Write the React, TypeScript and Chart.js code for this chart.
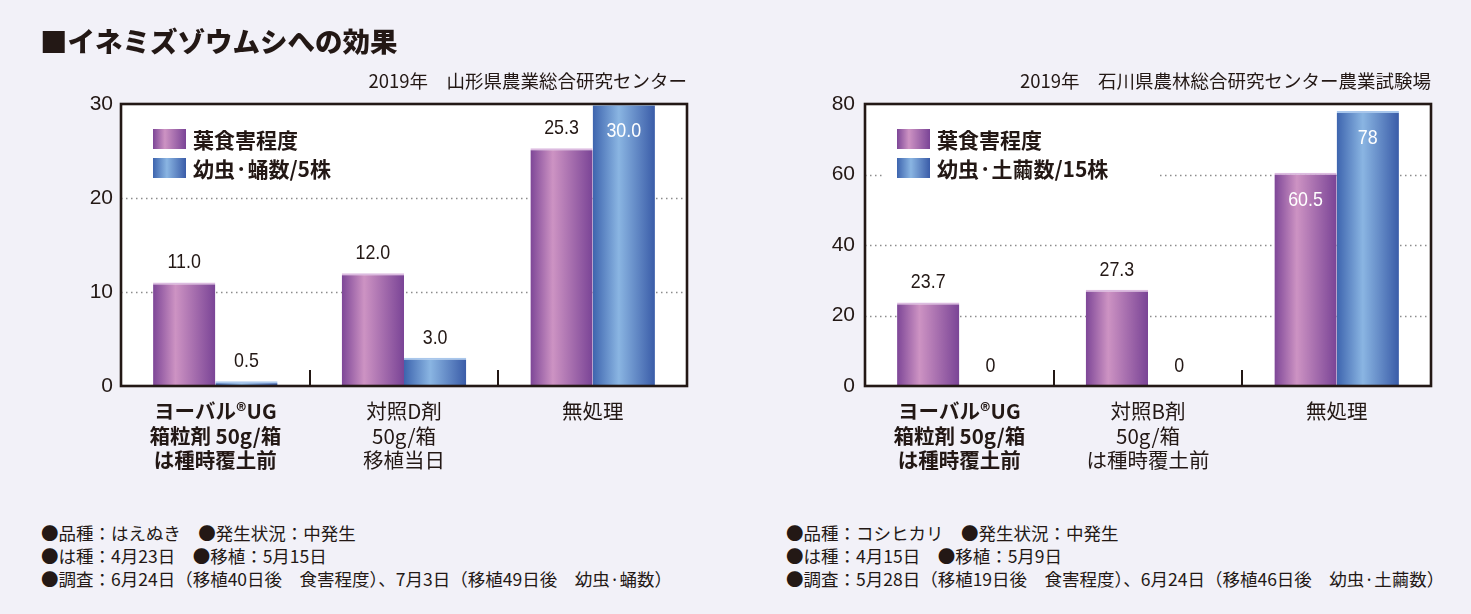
import React, { useEffect, useRef } from "react";
import { Chart, registerables } from "chart.js";

Chart.register(...registerables);

// ---------- data ----------
const titleText = "■イネミズゾウムシへの効果";

const leftSource = "2019年　山形県農業総合研究センター";
const leftCategories = [
  ["ヨーバル®UG", "箱粒剤 50g/箱", "は種時覆土前"],
  ["対照D剤", "50g/箱", "移植当日"],
  ["無処理"],
];
const leftSeriesLabels = ["葉食害程度", "幼虫·蛹数/5株"];
const leftDamage = [11.0, 12.0, 25.3];
const leftLarvae = [0.5, 3.0, 30.0];
const leftYMax = 30;
const leftYStep = 10;
const leftNotes = [
  "●品種：はえぬき　●発生状況：中発生",
  "●は種：4月23日　●移植：5月15日",
  "●調査：6月24日（移植40日後　食害程度）、7月3日（移植49日後　幼虫·蛹数）",
];

const rightSource = "2019年　石川県農林総合研究センター農業試験場";
const rightCategories = [
  ["ヨーバル®UG", "箱粒剤 50g/箱", "は種時覆土前"],
  ["対照B剤", "50g/箱", "は種時覆土前"],
  ["無処理"],
];
const rightSeriesLabels = ["葉食害程度", "幼虫·土繭数/15株"];
const rightDamage = [23.7, 27.3, 60.5];
const rightLarvae = [0, 0, 78];
const rightYMax = 80;
const rightYStep = 20;
const rightNotes = [
  "●品種：コシヒカリ　●発生状況：中発生",
  "●は種：4月15日　●移植：5月9日",
  "●調査：5月28日（移植19日後　食害程度）、6月24日（移植46日後　幼虫·土繭数）",
];

// ---------- style ----------
const TEXT = "#231815";
const BG = "#f2f1f8";
const FONT_JP = "'Noto Sans CJK JP', 'Noto Sans', sans-serif";
const FONT_NUM = "'Liberation Sans', Arial, sans-serif";
const CAT_PCT = 0.66;

const PURPLE_STOPS: [number, string][] = [
  [0, "#7d4697"],
  [0.36, "#cd93c3"],
  [1, "#7a4496"],
];
const BLUE_STOPS: [number, string][] = [
  [0, "#3d64ae"],
  [0.42, "#8ab5e2"],
  [1, "#3a5ca8"],
];

function makeGradient(ctx: CanvasRenderingContext2D, x0: number, w: number, stops: [number, string][]) {
  const g = ctx.createLinearGradient(x0, 0, x0 + w, 0);
  stops.forEach(([o, c]) => g.addColorStop(o, c));
  return g;
}

function barFill(c: any, stops: [number, string][]) {
  const chart = c.chart;
  const xs = chart.scales && chart.scales.x;
  if (!xs || c.type !== "data") return stops[1][1];
  const n = chart.data.labels.length;
  const catW = (xs.right - xs.left) / n;
  const groupW = catW * CAT_PCT;
  const nd = chart.data.datasets.length;
  const barW = groupW / nd;
  const center = xs.getPixelForValue(c.dataIndex);
  const x0 = center - groupW / 2 + c.datasetIndex * barW;
  if (!isFinite(x0) || !isFinite(barW) || barW <= 0) return stops[1][1];
  return makeGradient(chart.ctx, x0, barW, stops);
}

type Spec = {
  categories: string[][];
  seriesLabels: string[];
  damage: number[];
  larvae: number[];
  yMax: number;
  yStep: number;
  decimals: number | null;
  inside: boolean[][];
  width: number;
  height: number;
  area: { left: number; top: number; right: number; bottom: number };
  tickPad: number;
};

function makeDecor(spec: Spec) {
  return {
    id: "decor",
    beforeDraw(chart: any) {
      const { ctx, chartArea: a } = chart;
      ctx.save();
      ctx.fillStyle = "#ffffff";
      ctx.fillRect(a.left, a.top, a.right - a.left, a.bottom - a.top);
      ctx.restore();
    },
    beforeDatasetsDraw(chart: any) {
      const { ctx, chartArea: a } = chart;
      const ys = chart.scales.y;
      // dotted grid lines
      ctx.save();
      ctx.strokeStyle = "#8c8c8c";
      ctx.lineWidth = 1.3;
      ctx.setLineDash([1.5, 3.5]);
      ys.ticks.forEach((t: any) => {
        if (t.value <= ys.min || t.value >= ys.max) return;
        const y = Math.round(ys.getPixelForValue(t.value)) + 0.5;
        ctx.beginPath();
        ctx.moveTo(a.left, y);
        ctx.lineTo(a.right, y);
        ctx.stroke();
      });
      ctx.restore();

      // legend
      const sw = 33, sh = 20, gap = 9;
      const lx = a.left + 32;
      const ly = a.top + 25;
      ctx.save();
      ctx.font = `bold 21px ${FONT_JP}`;
      let maxW = 0;
      chart.data.datasets.forEach((d: any) => {
        maxW = Math.max(maxW, ctx.measureText(d.label).width);
      });
      const nd = chart.data.datasets.length;
      ctx.fillStyle = "#ffffff";
      ctx.fillRect(lx - 13, a.top + 3, sw + 7 + maxW + 62, nd * (sh + gap) + 30);
      chart.data.datasets.forEach((d: any, i: number) => {
        const y = ly + i * (sh + gap);
        ctx.fillStyle = makeGradient(ctx, lx, sw, i === 0 ? PURPLE_STOPS : BLUE_STOPS);
        ctx.fillRect(lx, y, sw, sh);
        ctx.fillStyle = TEXT;
        ctx.textAlign = "left";
        ctx.textBaseline = "middle";
        ctx.fillText(d.label, lx + sw + 7, y + sh / 2 + 1);
      });
      ctx.restore();
    },
    afterDatasetsDraw(chart: any) {
      const { ctx, chartArea: a } = chart;
      const xs = chart.scales.x;
      // value labels (condensed numerals)
      ctx.save();
      ctx.font = `21px ${FONT_NUM}`;
      ctx.textAlign = "center";
      ctx.textBaseline = "middle";
      chart.data.datasets.forEach((d: any, di: number) => {
        const meta = chart.getDatasetMeta(di);
        meta.data.forEach((el: any, i: number) => {
          const v = d.data[i];
          const txt = spec.decimals === null ? String(v) : Number(v).toFixed(spec.decimals);
          const inside = spec.inside[di][i];
          ctx.fillStyle = inside ? "#ffffff" : TEXT;
          ctx.save();
          ctx.translate(el.x, inside ? el.y + 27 : el.y - 20);
          ctx.scale(0.85, 1);
          ctx.fillText(txt, 0, 0);
          ctx.restore();
        });
      });
      ctx.restore();

      // category boundary ticks
      ctx.save();
      ctx.strokeStyle = TEXT;
      ctx.lineWidth = 2;
      const n = chart.data.labels.length;
      for (let i = 0; i < n - 1; i++) {
        const x = Math.round((xs.getPixelForValue(i) + xs.getPixelForValue(i + 1)) / 2);
        ctx.beginPath();
        ctx.moveTo(x, a.bottom);
        ctx.lineTo(x, a.bottom - 16);
        ctx.stroke();
      }
      // frame
      ctx.lineWidth = 2.6;
      ctx.strokeRect(a.left, a.top, a.right - a.left, a.bottom - a.top);
      ctx.restore();
    },
  };
}

function ChartBox({ spec, left }: { spec: Spec; left: number }) {
  const ref = useRef<HTMLCanvasElement | null>(null);
  useEffect(() => {
    const canvas = ref.current;
    if (!canvas) return;
    const chart = new Chart(canvas, {
      type: "bar",
      data: {
        labels: spec.categories as any,
        datasets: [
          {
            label: spec.seriesLabels[0],
            data: spec.damage,
            backgroundColor: (c: any) => barFill(c, PURPLE_STOPS),
            borderColor: "#dcbbe0",
            borderWidth: { top: 2, left: 0, right: 0, bottom: 0 } as any,
          },
          {
            label: spec.seriesLabels[1],
            data: spec.larvae,
            backgroundColor: (c: any) => barFill(c, BLUE_STOPS),
            borderColor: "#a9c7ec",
            borderWidth: { top: 2, left: 0, right: 0, bottom: 0 } as any,
          },
        ],
      },
      options: {
        responsive: false,
        animation: false,
        devicePixelRatio: 1,
        barPercentage: 1,
        categoryPercentage: CAT_PCT,
        layout: {
          padding: {
            left: 0,
            top: spec.area.top,
            right: spec.width - spec.area.right,
            bottom: 0,
          },
        },
        plugins: {
          legend: { display: false },
          tooltip: { enabled: false },
          title: { display: false },
        },
        scales: {
          x: {
            type: "category",
            grid: { display: false, drawTicks: false },
            border: { display: false },
            ticks: {
              color: TEXT,
              padding: 13,
              maxRotation: 0,
              autoSkip: false,
              font: (c: any) => ({
                family: FONT_JP,
                size: 20.5,
                weight: c.index === 0 ? "bold" : "normal",
                lineHeight: 1.2,
              }),
            },
            afterFit: (s: any) => {
              s.height = spec.height - spec.area.bottom;
            },
          },
          y: {
            min: 0,
            max: spec.yMax,
            grid: { display: false, drawTicks: false },
            border: { display: false },
            ticks: {
              stepSize: spec.yStep,
              color: TEXT,
              padding: spec.tickPad,
              font: { family: FONT_NUM, size: 21 },
            },
            afterFit: (s: any) => {
              s.width = spec.area.left;
            },
          },
        },
      },
      plugins: [makeDecor(spec)],
    } as any);
    return () => chart.destroy();
  }, [spec]);
  return (
    <canvas
      ref={ref}
      width={spec.width}
      height={spec.height}
      style={{ position: "absolute", left, top: 0, width: spec.width, height: spec.height }}
    />
  );
}

const leftSpec: Spec = {
  categories: leftCategories,
  seriesLabels: leftSeriesLabels,
  damage: leftDamage,
  larvae: leftLarvae,
  yMax: leftYMax,
  yStep: leftYStep,
  decimals: 1,
  inside: [
    [false, false, false],
    [false, false, true],
  ],
  width: 735,
  height: 490,
  area: { left: 121, top: 104, right: 687, bottom: 386 },
  tickPad: 8,
};

const rightSpec: Spec = {
  categories: rightCategories,
  seriesLabels: rightSeriesLabels,
  damage: rightDamage,
  larvae: rightLarvae,
  yMax: rightYMax,
  yStep: rightYStep,
  decimals: null,
  inside: [
    [false, false, true],
    [false, false, true],
  ],
  width: 736,
  height: 490,
  area: { left: 130, top: 104, right: 696, bottom: 386 },
  tickPad: 10,
};

const textBase: React.CSSProperties = {
  position: "absolute",
  fontFamily: FONT_JP,
  color: TEXT,
  whiteSpace: "pre",
  margin: 0,
};

function Notes({ lines, left }: { lines: string[]; left: number }) {
  return (
    <div style={{ ...textBase, left, top: 520.5, fontSize: 17.5, lineHeight: "23px" }}>
      {lines.map((l, i) => (
        <div key={i}>{l}</div>
      ))}
    </div>
  );
}

export default function App() {
  return (
    <div
      style={{
        position: "fixed",
        left: 0,
        top: 0,
        width: 1471,
        height: 614,
        background: BG,
        overflow: "hidden",
      }}
    >
      <ChartBox spec={leftSpec} left={0} />
      <ChartBox spec={rightSpec} left={735} />
      <div
        style={{
          ...textBase,
          left: 40,
          top: 22,
          fontSize: 27.5,
          fontWeight: 900,
          lineHeight: "36px",
        }}
      >
        {titleText}
      </div>
      <div
        style={{
          ...textBase,
          right: 1471 - 687,
          top: 67,
          fontSize: 18.5,
          lineHeight: "26px",
          textAlign: "right",
        }}
      >
        {leftSource}
      </div>
      <div
        style={{
          ...textBase,
          right: 1471 - 1431,
          top: 67,
          fontSize: 18.5,
          lineHeight: "26px",
          textAlign: "right",
        }}
      >
        {rightSource}
      </div>
      <Notes lines={leftNotes} left={41} />
      <Notes lines={rightNotes} left={786} />
    </div>
  );
}
